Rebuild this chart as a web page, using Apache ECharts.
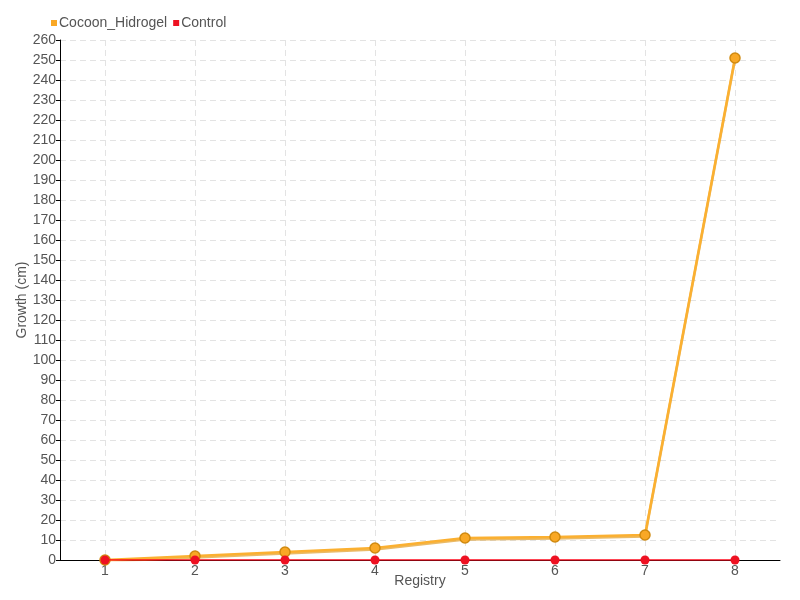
<!DOCTYPE html>
<html><head><meta charset="utf-8">
<script src="https://cdn.jsdelivr.net/npm/echarts@6/dist/echarts.min.js"></script>
<style>html,body{margin:0;padding:0;background:#fff}#c{width:800px;height:600px}</style>
</head><body><div id="c"></div>
<script>
const categories = ['1','2','3','4','5','6','7','8'];
const cocoonHidrogel = [0, 2, 4, 6, 11, 11.5, 12.5, 251];
const control = [0, 0, 0, 0, 0, 0, 0, 0];
const FONT = "'Liberation Sans', sans-serif";
const chart = echarts.init(document.getElementById('c'));
chart.setOption({
  backgroundColor: '#fff',
  textStyle: { fontFamily: FONT },
  legend: {
    left: 46, top: 11, itemWidth: 6, itemHeight: 6, itemGap: 6,
    icon: 'rect',
    itemStyle: { borderWidth: 0 },
    textStyle: { fontSize: 14, color: '#555', fontFamily: FONT, padding: [0,0,0,-3] },
    data: ['Cocoon_Hidrogel', 'Control']
  },
  grid: { left: 60, right: 20, top: 40, bottom: 40, containLabel: false, outerBoundsMode: 'none' },
  xAxis: {
    type: 'category', data: categories, boundaryGap: true,
    name: 'Registry', nameLocation: 'middle', nameGap: 14, nameMoveOverlap: false,
    nameTextStyle: { fontSize: 14, color: '#555', fontFamily: FONT },
    axisLine: { lineStyle: { color: '#000', width: 1 } },
    axisTick: { show: false, alignWithLabel: true },
    axisLabel: { fontSize: 14, color: '#555', margin: 4, fontFamily: FONT },
    splitLine: { show: true, alignWithLabel: true, lineStyle: { color: '#e3e3e3', type: [6, 4] } }
  },
  yAxis: {
    type: 'value', min: 0, max: 260, interval: 10,
    name: 'Growth (cm)', nameLocation: 'middle', nameGap: 31, nameMoveOverlap: false,
    nameTextStyle: { fontSize: 14, color: '#555', fontFamily: FONT },
    axisLine: { show: true, lineStyle: { color: '#000', width: 1 } },
    axisTick: { show: true, length: 4, lineStyle: { color: '#000' } },
    axisLabel: { fontSize: 14, color: '#555', margin: 4, fontFamily: FONT },
    splitLine: { show: true, lineStyle: { color: '#e3e3e3', type: [6, 4] } }
  },
  series: [
    {
      name: 'Cocoon_Hidrogel', type: 'line', data: cocoonHidrogel,
      symbol: 'circle', symbolSize: 10,
      itemStyle: { color: '#F9A825', borderColor: '#D08A10', borderWidth: 1.5 },
      lineStyle: { color: '#FBB031', width: 2.5, shadowColor: 'rgba(220,140,0,0.6)', shadowOffsetY: 1.5, shadowBlur: 0 },
      z: 2
    },
    {
      name: 'Control', type: 'line', data: control,
      symbol: 'circle', symbolSize: 9,
      itemStyle: { color: '#EE1122' },
      lineStyle: { color: '#FF0A1E', width: 1.5 },
      z: 3
    }
  ]
});
</script></body></html>
